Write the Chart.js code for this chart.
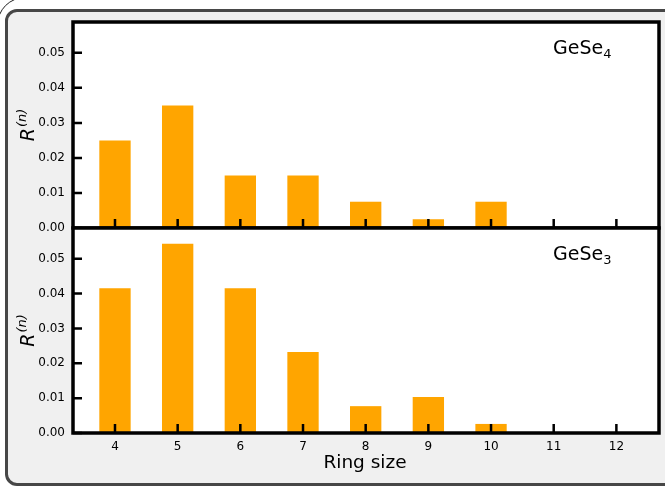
<!DOCTYPE html>
<html>
<head>
<meta charset="utf-8">
<script src="https://cdn.jsdelivr.net/npm/chart.js@4.4.0/dist/chart.umd.min.js"></script>
<style>
  html, body { margin: 0; padding: 0; background: #fff; width: 665px; height: 487px; overflow: hidden; position: relative; }
  #outer { position: absolute; left: -3px; top: -3px; width: 900px; height: 900px; border: 1px solid #222; border-radius: 28px; }
  #panel { position: absolute; left: 5px; top: 9px; width: 720px; height: 477px; box-sizing: border-box;
           background: #f0f0f0; border: 3px solid #474747; border-radius: 12px; }
  canvas { position: absolute; left: 0; }
  #topChart { top: 0; }
  #bottomChart { top: 218px; }
</style>
</head>
<body>
<div id="outer"></div>
<div id="panel"></div>
<canvas id="topChart" width="665" height="240"></canvas>
<canvas id="bottomChart" width="665" height="269"></canvas>
<script>
// ring sizes on the x axis
const ringSizes = [4, 5, 6, 7, 8, 9, 10, 11, 12];
// R(n) values
const gese4 = [0.025, 0.035, 0.015, 0.015, 0.0075, 0.0025, 0.0075, 0, 0];
const gese3 = [0.0415, 0.0543, 0.0415, 0.0232, 0.0077, 0.0103, 0.0026, 0, 0];
// tick labels
const xTicks = [4, 5, 6, 7, 8, 9, 10, 11, 12];
const yTicks = [0, 0.01, 0.02, 0.03, 0.04, 0.05];

const FONT = "'DejaVu Sans', sans-serif";
const BAR = "#ffa500";

/* ========= panel plugin: frame, inward ticks, labels ========= */
const panelPlugin = {
  id: "panel",
  beforeDraw(chart) {
    const { ctx, chartArea: a } = chart;
    ctx.save();
    ctx.fillStyle = "#fff";
    ctx.fillRect(a.left, a.top, a.right - a.left, a.bottom - a.top);
    ctx.restore();
  },
  afterDraw(chart, args, opts) {
    const { ctx, chartArea: a, scales: { x, y } } = chart;
    ctx.save();

    // inward tick marks
    ctx.strokeStyle = "#000";
    ctx.lineWidth = 2.5;
    ctx.beginPath();
    xTicks.forEach((v) => {
      const px = x.getPixelForValue(v);
      ctx.moveTo(px, a.bottom);
      ctx.lineTo(px, a.bottom - 9);
    });
    yTicks.forEach((v) => {
      const py = y.getPixelForValue(v);
      ctx.moveTo(a.left, py);
      ctx.lineTo(a.left + 9, py);
    });
    ctx.stroke();

    // frame
    ctx.lineWidth = 3.5;
    ctx.strokeRect(a.left, a.top, a.right - a.left, a.bottom - a.top);

    // compound label, e.g. GeSe4
    ctx.fillStyle = "#000";
    ctx.textBaseline = "alphabetic";
    ctx.textAlign = "left";
    ctx.font = `19px ${FONT}`;
    const lx = 553, ly = a.top + 32;
    ctx.fillText(opts.name, lx, ly);
    const w = ctx.measureText(opts.name).width;
    ctx.font = `13px ${FONT}`;
    ctx.fillText(opts.sub, lx + w, ly + 4);

    // y title R^(n)
    ctx.save();
    ctx.translate(34, (a.top + a.bottom) / 2);
    ctx.rotate(-Math.PI / 2);
    ctx.font = `italic 19px ${FONT}`;
    const wR = ctx.measureText("R").width;
    ctx.font = `italic 13px ${FONT}`;
    const wS = ctx.measureText("(n)").width;
    const start = -(wR + wS + 1) / 2;
    ctx.font = `italic 19px ${FONT}`;
    ctx.fillText("R", start, 0);
    ctx.font = `italic 13px ${FONT}`;
    ctx.fillText("(n)", start + wR + 1, -8);
    ctx.restore();

    // x title
    if (opts.xTitle) {
      ctx.textAlign = "center";
      ctx.font = `18.5px ${FONT}`;
      ctx.fillText(opts.xTitle, (a.left + a.right) / 2 - 1, a.bottom + 35);
    }
    ctx.restore();
  }
};

function makePanel(id, values, name, sub, showX) {
  const el = document.getElementById(id);
  if (!el) return;
  const ctx = el.getContext("2d");

  new Chart(ctx, {
    type: "bar",
    data: {
      datasets: [{
        data: ringSizes.map((n, i) => ({ x: n, y: values[i] })),
        backgroundColor: BAR,
        borderWidth: 0,
        categoryPercentage: 1,
        barPercentage: 0.5
      }]
    },
    options: {
      responsive: false,
      animation: false,
      devicePixelRatio: 1,
      layout: { padding: { left: 0, right: 6, top: showX ? 10 : 22, bottom: showX ? 0 : 12 } },
      plugins: {
        legend: { display: false },
        tooltip: { enabled: false },
        panel: { name, sub, xTitle: showX ? "Ring size" : null }
      },
      scales: {
        x: {
          type: "linear",
          offset: false,
          min: 3.33,
          max: 12.68,
          display: showX,
          grid: { display: false, drawTicks: false, offset: false },
          border: { display: false },
          afterBuildTicks: (s) => { s.ticks = xTicks.map((v) => ({ value: v })); },
          afterFit: (s) => { s.height = showX ? 54 : 0; s.paddingLeft = 0; s.paddingRight = 0; },
          ticks: { padding: 7, color: "#000", font: { family: FONT, size: 12 }, callback: (v) => String(v) }
        },
        y: {
          min: 0,
          max: 0.0588,
          grid: { display: false, drawTicks: false },
          border: { display: false },
          afterBuildTicks: (s) => { s.ticks = yTicks.map((v) => ({ value: v })); },
          afterFit: (s) => { s.width = 73; s.paddingTop = 0; s.paddingBottom = 0; },
          ticks: { padding: 8, color: "#000", font: { family: FONT, size: 12 }, callback: (v) => v.toFixed(2) }
        }
      }
    },
    plugins: [panelPlugin]
  });
}

/* ========= Init ========= */
makePanel("topChart", gese4, "GeSe", "4", false);
makePanel("bottomChart", gese3, "GeSe", "3", true);
</script>
</body>
</html>
